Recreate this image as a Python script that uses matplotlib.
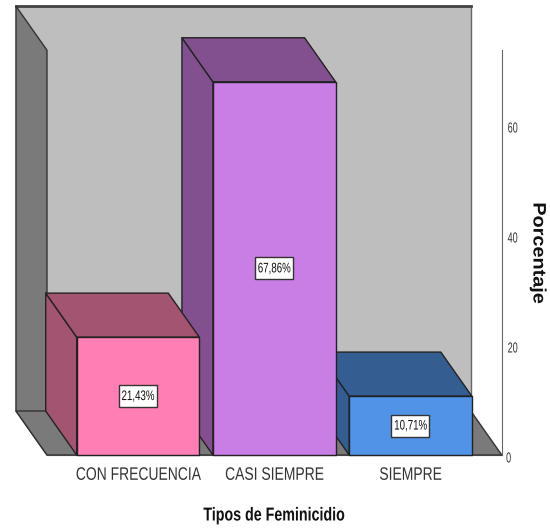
# tipos de feminicidio, 3d style bars

import numpy as np
from matplotlib import pyplot as plt
from matplotlib.patches import Polygon, Rectangle
from matplotlib.patheffects import AbstractPathEffect
from matplotlib.transforms import Affine2D, ScaledTranslation

categories = ['CON FRECUENCIA', 'CASI SIEMPRE', 'SIEMPRE']
values = [21.43, 67.86, 10.71]
labels = ['21,43%', '67,86%', '10,71%']
yticks = [0, 20, 40, 60]

front_colors = ['#FF7EB3', '#C97EE6', '#5193E6']
dark_colors = ['#A35470', '#82508F', '#345E92']

plt.rcParams['font.family'] = ['Liberation Sans']

# depth of the fake 3d box, in axis units
depth_x = -0.2275
depth_y = 8.0
bar_w = 0.9
wall_left = -0.668
wall_right = 2.67
wall_top = 73.6
edge = '#222222'


class Squeeze(AbstractPathEffect):
    # the reference font is a narrow one, squeeze the glyphs along the text line
    def __init__(self, sx):
        super().__init__()
        self.sx = sx

    def draw_path(self, renderer, gc, tpath, affine, rgbFace=None):
        xm = tpath.get_extents().x0 + tpath.get_extents().width / 2
        local = Affine2D().translate(-xm, 0).scale(self.sx, 1).translate(xm, 0)
        renderer.draw_path(gc, tpath, local + affine, rgbFace)


fig = plt.figure(figsize=(5.5, 5.28), dpi=100)
ax = fig.add_axes([0, 0, 1, 1])
ax.patch.set_visible(False)
ax.set_xlim(-138 / 136.25, (550 - 138) / 136.25)
ax.set_ylim(-73 / 5.5, 455 / 5.5)


def face(pts, color, z, lw=1.0, ec=edge):
    ax.add_patch(Polygon(pts, closed=True, fc=color, ec=ec, lw=lw, zorder=z, joinstyle='round'))


# walls and floor
face([(wall_left + depth_x, depth_y), (wall_right + depth_x, depth_y),
      (wall_right + depth_x, wall_top + depth_y), (wall_left + depth_x, wall_top + depth_y)], '#BEBEBE', 1, ec='#666666')
ax.plot([wall_left + depth_x, wall_right + depth_x], [wall_top + depth_y] * 2, color='#444444', lw=2, zorder=1.05)
face([(wall_left + depth_x, depth_y), (wall_left, 0), (wall_left, wall_top),
      (wall_left + depth_x, wall_top + depth_y)], '#7A7A7A', 1.1, ec='#333333')
face([(wall_left + depth_x, depth_y), (wall_right + depth_x, depth_y), (wall_right, 0),
      (wall_left, 0)], '#7A7A7A', 1.1, ec='#333333')

# right to left, the left bars cover the side of the next one
x = np.arange(len(values))
for i in range(len(values) - 1, -1, -1):
    z = 2 + (len(values) - i)
    x0 = x[i] - bar_w / 2
    x1 = x[i] + bar_w / 2
    v = values[i]
    face([(x0, 0), (x0 + depth_x, depth_y), (x0 + depth_x, v + depth_y), (x0, v)], dark_colors[i], z)
    face([(x0, v), (x0 + depth_x, v + depth_y), (x1 + depth_x, v + depth_y), (x1, v)], dark_colors[i], z)
    face([(x0, 0), (x1, 0), (x1, v), (x0, v)], front_colors[i], z + 0.1)
    # label box, 38x22 px
    ax.add_patch(Rectangle((x[i] - 19 / 136.25, v / 2 - 2), 38 / 136.25, 4, fc='white', ec='#333333', lw=1,
                           zorder=z + 0.2))
    ax.text(x[i], v / 2, labels[i], ha='center', va='center', fontsize=10, color='#111111', zorder=z + 0.3,
            path_effects=[Squeeze(0.7)])

# axes
for s in ['top', 'left']:
    ax.spines[s].set_visible(False)
ax.spines['bottom'].set_position(('data', 0))
ax.spines['bottom'].set_bounds(wall_left, wall_right)
ax.spines['bottom'].set_color('#444444')
ax.spines['bottom'].set_zorder(1.5)
ax.spines['right'].set_position(('data', wall_right))
ax.spines['right'].set_bounds(0, wall_top)
ax.spines['right'].set_color('#666666')

ax.set_xticks(x)
ax.set_xticklabels(categories, fontsize=13, color='#333333')
ax.tick_params(axis='x', length=0, pad=8.5)
for t in ax.get_xticklabels():
    t.set_path_effects([Squeeze(0.77)])
ax.yaxis.tick_right()
ax.set_yticks(yticks)
ax.tick_params(axis='y', length=0, pad=2, labelsize=10.5, labelcolor='#333333')
down = ScaledTranslation(0, -2 / 100, fig.dpi_scale_trans)
for t in ax.get_yticklabels():
    t.set_transform(t.get_transform() + down)
    t.set_path_effects([Squeeze(0.62)])

fig.text(274 / 550, 1 - 516 / 528, 'Tipos de Feminicidio', ha='center', va='center',
         fontsize=13.5, fontweight='bold', color='#111111', path_effects=[Squeeze(0.76)])
fig.text(538 / 550, 1 - 253 / 528, 'Porcentaje', ha='center', va='center', rotation=270,
         fontsize=13, fontweight='bold', color='#111111', path_effects=[Squeeze(1.1)])

plt.savefig('out.png', dpi=100)
